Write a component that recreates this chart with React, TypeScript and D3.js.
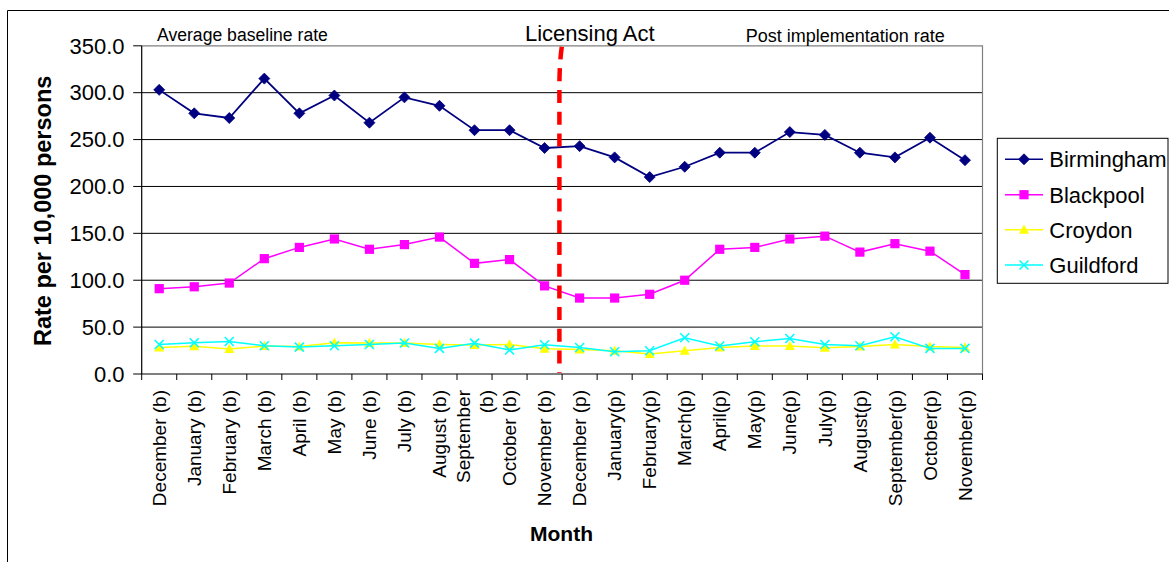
import React from "react";
import * as d3 from "d3";

// Month categories: baseline year (b) and post-implementation year (p)
const categories = [
  "December (b)", "January (b)", "February (b)", "March (b)", "April (b)", "May (b)",
  "June (b)", "July (b)", "August (b)", "September (b)", "October (b)", "November (b)",
  "December (p)", "January(p)", "February(p)", "March(p)", "April(p)", "May(p)",
  "June(p)", "July(p)", "August(p)", "September(p)", "October(p)", "November(p)",
];

const birmingham = [303, 278, 273, 315, 278, 297, 268, 295, 286, 260, 260, 241, 243, 231, 210, 221, 236, 236, 258, 255, 236, 231, 252, 228];
const blackpool = [91, 93, 97, 123, 135, 144, 133, 138, 146, 118, 122, 94, 81, 81, 85, 100, 133, 135, 144, 147, 130, 139, 131, 106];
const croydon = [28.3, 29.5, 26.6, 29.8, 29.2, 33.3, 33, 33, 31.5, 30.8, 31.5, 26.9, 26.2, 24.8, 21.2, 24.8, 28.3, 29.8, 29.8, 28.1, 29.2, 31.5, 29.2, 28.3];
const guildford = [31.5, 33.3, 34.7, 30.1, 28.7, 30.1, 31.5, 33, 27.3, 32.9, 25.6, 31.2, 28.3, 23.7, 24.8, 38.7, 29.8, 34.4, 37.9, 31.5, 30.1, 39.7, 27.3, 27.3];

const yTicks = [0, 50, 100, 150, 200, 250, 300, 350];

const seriesNames = ["Birmingham", "Blackpool", "Croydon", "Guildford"];

type MarkerKind = "diamond" | "square" | "triangle" | "cross";

const series: { name: string; values: number[]; color: string; marker: MarkerKind }[] = [
  { name: seriesNames[0], values: birmingham, color: "#000080", marker: "diamond" },
  { name: seriesNames[1], values: blackpool, color: "#FF00FF", marker: "square" },
  { name: seriesNames[2], values: croydon, color: "#FFFF00", marker: "triangle" },
  { name: seriesNames[3], values: guildford, color: "#00FFFF", marker: "cross" },
];

const W = 1169;
const H = 562;
const plot = { left: 141.7, right: 982.5, top: 45.8, bottom: 374 };
const FONT = "'Liberation Sans', Arial, Helvetica, sans-serif";

function Marker({ kind, x, y, color }: { kind: MarkerKind; x: number; y: number; color: string }) {
  switch (kind) {
    case "diamond":
      return <path d={`M${x},${y - 5.5}L${x + 5.5},${y}L${x},${y + 5.5}L${x - 5.5},${y}Z`} fill={color} stroke={color} strokeWidth={0.8} />;
    case "square":
      return <rect x={x - 4.6} y={y - 4.6} width={9.2} height={9.2} fill={color} />;
    case "triangle":
      return <path d={`M${x},${y - 5.2}L${x + 5},${y + 4}L${x - 5},${y + 4}Z`} fill={color} />;
    case "cross":
      return (
        <path
          d={`M${x - 4.5},${y - 4.5}L${x + 4.5},${y + 4.5}M${x + 4.5},${y - 4.5}L${x - 4.5},${y + 4.5}`}
          stroke={color}
          strokeWidth={1.6}
          fill="none"
        />
      );
  }
}

function wrapLabel(label: string): string[] {
  if (label.length > 12 && label.includes(" ")) {
    const i = label.lastIndexOf(" ");
    return [label.slice(0, i), label.slice(i + 1)];
  }
  return [label];
}

export default function App() {
  const x = d3.scaleBand<string>().domain(categories).range([plot.left, plot.right]);
  const bw = x.bandwidth();
  const cx = (c: string) => (x(c) as number) + bw / 2;
  const y = d3.scaleLinear().domain([0, 350]).range([plot.bottom, plot.top]);
  const fmt = d3.format(".1f");

  const line = d3
    .line<number>()
    .x((_, i) => cx(categories[i]))
    .y((v) => y(v));

  const boundaries = d3.range(categories.length + 1).map((i) => plot.left + i * bw);

  const legend = { left: 997.3, top: 138.3, right: 1168, bottom: 283.3 };
  const legendRows = [159.3, 194.7, 229.7, 265];

  return (
    <svg
      width={W}
      height={H}
      style={{ position: "absolute", left: 0, top: 0, background: "#fff" }}
      fontFamily={FONT}
    >
      <rect x={0} y={0} width={W} height={H} fill="#fff" />
      {/* outer chart frame */}
      <path d={`M7.5,${H + 2}V10.5H${W + 2}`} fill="none" stroke="#000" strokeWidth={1} />

      {/* gridlines */}
      {yTicks.slice(1, -1).map((t) => (
        <line key={t} x1={plot.left} x2={plot.right} y1={y(t)} y2={y(t)} stroke="#000" strokeWidth={1} />
      ))}
      {/* plot border top / right */}
      <path d={`M${plot.left},${y(350)}H${plot.right}V${plot.bottom}`} fill="none" stroke="#808080" strokeWidth={1.2} />

      {/* y axis */}
      <line x1={plot.left} x2={plot.left} y1={plot.top} y2={plot.bottom} stroke="#000" strokeWidth={1.2} />
      {yTicks.map((t) => (
        <g key={t}>
          <line x1={plot.left - 8.5} x2={plot.left} y1={y(t)} y2={y(t)} stroke="#000" strokeWidth={1} />
          <text x={124.5} y={y(t)} dy="0.35em" textAnchor="end" fontSize={22} fill="#000">
            {fmt(t)}
          </text>
        </g>
      ))}
      <text
        transform={`translate(50.5,${(plot.top + plot.bottom) / 2 + 1}) rotate(-90)`}
        textAnchor="middle"
        fontSize={23.5}
        fontWeight="bold"
        fill="#000"
      >
        Rate per 10,000 persons
      </text>

      {/* x axis */}
      <line x1={plot.left} x2={plot.right} y1={plot.bottom} y2={plot.bottom} stroke="#000" strokeWidth={1.2} />
      {boundaries.map((b, i) => (
        <line key={i} x1={b} x2={b} y1={plot.bottom} y2={plot.bottom + 6} stroke="#000" strokeWidth={1} />
      ))}
      {categories.map((c) => {
        const lines = wrapLabel(c);
        const gap = 23;
        return lines.map((l, j) => {
          const lx = cx(c) + (j - (lines.length - 1) / 2) * gap;
          return (
            <text
              key={c + j}
              transform={`translate(${lx},390) rotate(-90)`}
              dy="0.35em"
              textAnchor="end"
              fontSize={19}
              fill="#000"
            >
              {l}
            </text>
          );
        });
      })}
      <text x={561.5} y={541} textAnchor="middle" fontSize={21} fontWeight="bold" fill="#000">
        Month
      </text>

      {/* series */}
      {series.map((s) => (
        <g key={s.name}>
          <path d={line(s.values) as string} fill="none" stroke={s.color} strokeWidth={s.marker === "diamond" ? 1.8 : 1.5} />
          {s.values.map((v, i) => (
            <Marker key={i} kind={s.marker} x={cx(categories[i])} y={y(v)} color={s.color} />
          ))}
        </g>
      ))}

      {/* Licensing Act marker line */}
      <path
        d={`M561.8,${plot.top + 1}Q559.6,62 559.4,84L559.4,${plot.bottom - 1}`}
        fill="none"
        stroke="#FF0000"
        strokeWidth={4.5}
        strokeDasharray="13 8.7"
      />

      {/* period annotations */}
      <text x={157} y={40.5} fontSize={17.6} fill="#000">Average baseline rate</text>
      <text x={525} y={40.7} fontSize={22} fill="#000">Licensing Act</text>
      <text x={745.7} y={41.5} fontSize={18} fill="#000">Post implementation rate</text>

      {/* legend */}
      <rect
        x={legend.left}
        y={legend.top}
        width={legend.right - legend.left}
        height={legend.bottom - legend.top}
        fill="#fff"
        stroke="#000"
        strokeWidth={1}
      />
      {series.map((s, i) => (
        <g key={s.name}>
          <line x1={1005} x2={1043} y1={legendRows[i]} y2={legendRows[i]} stroke={s.color} strokeWidth={1.5} />
          <Marker kind={s.marker} x={1024} y={legendRows[i]} color={s.color} />
          <text x={1049.3} y={legendRows[i]} dy="0.36em" fontSize={22} fill="#000">
            {s.name}
          </text>
        </g>
      ))}
    </svg>
  );
}
